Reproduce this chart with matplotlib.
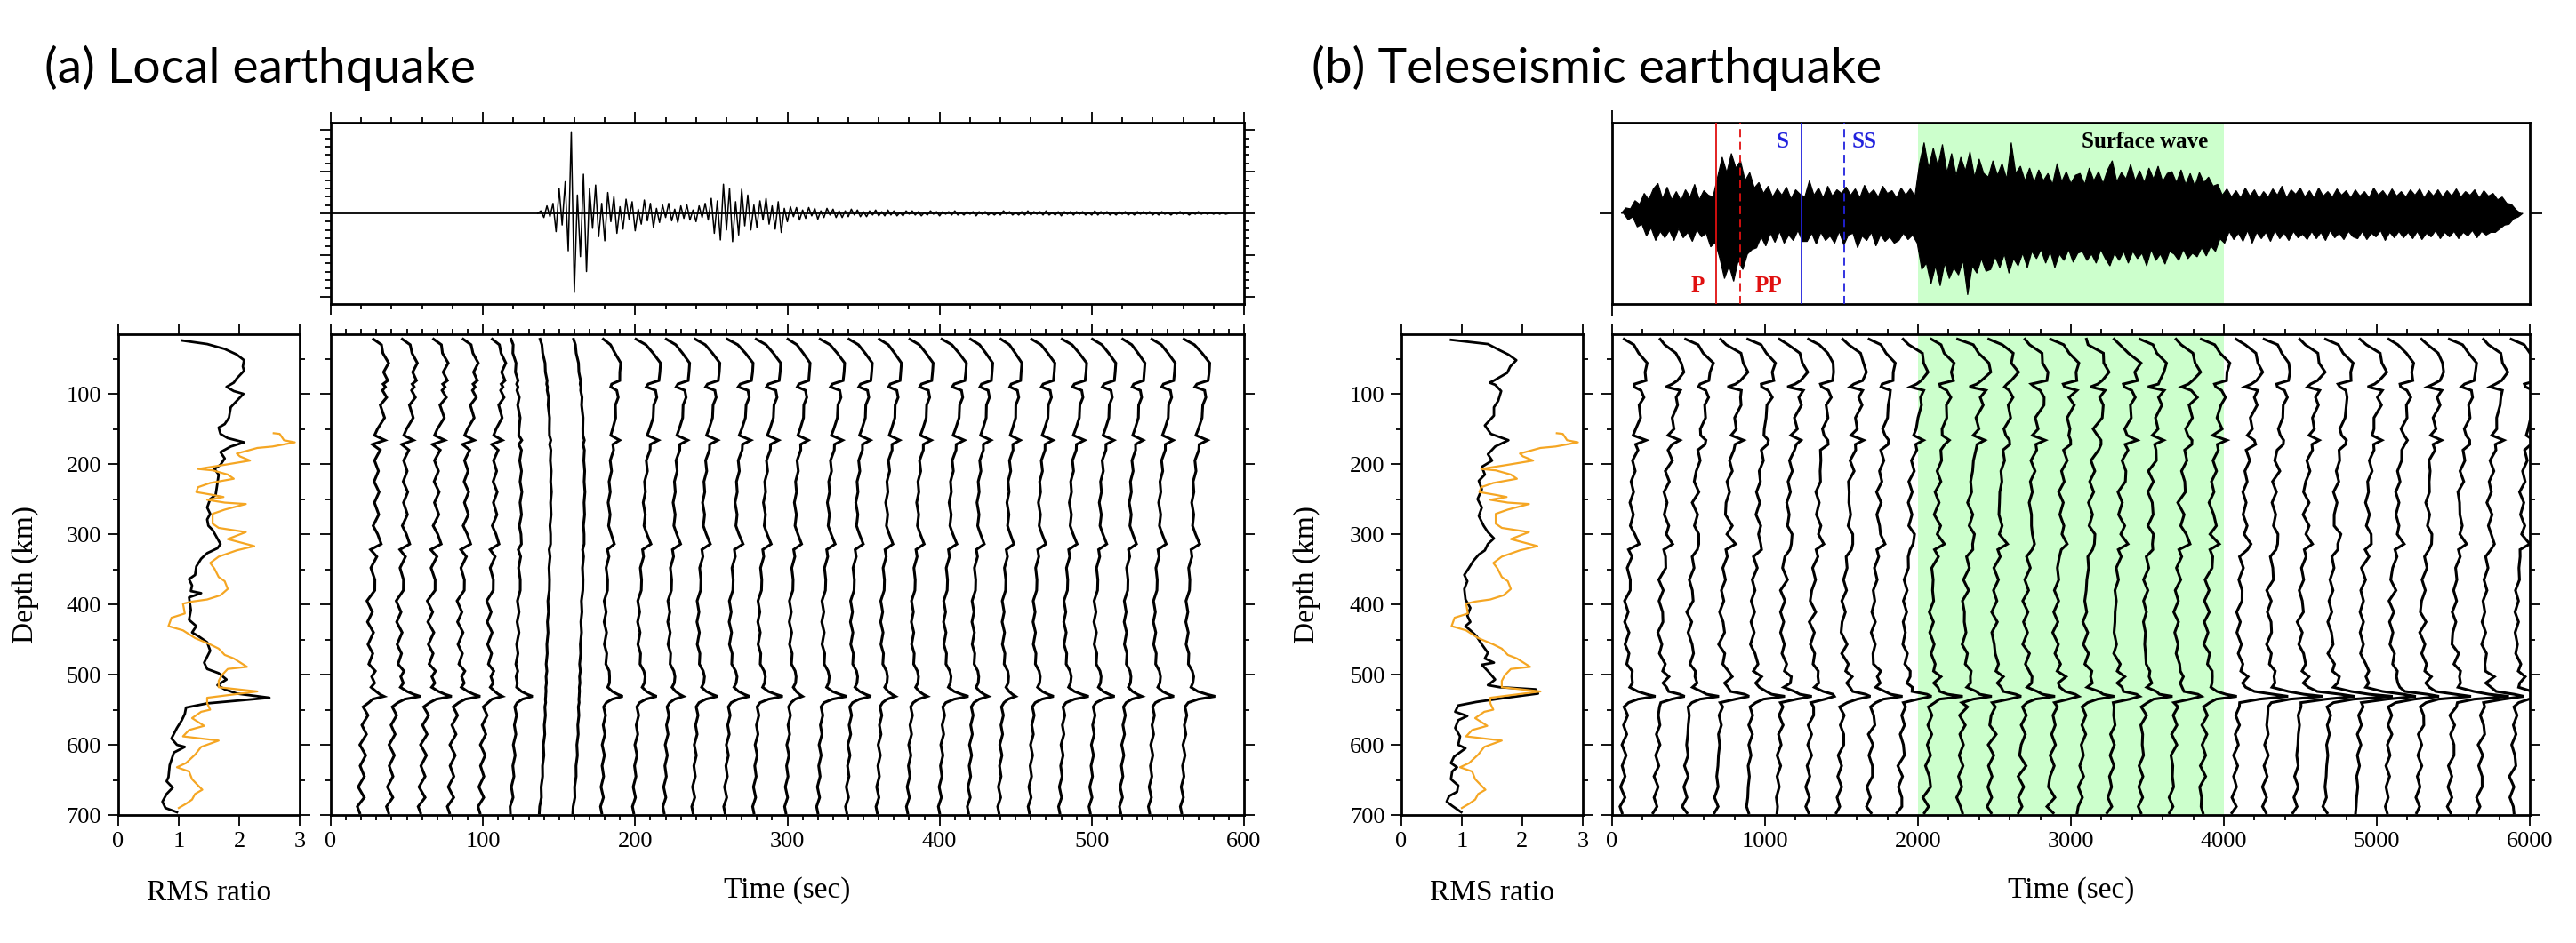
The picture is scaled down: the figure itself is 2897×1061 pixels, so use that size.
import numpy as np
import matplotlib
matplotlib.use("Agg")
import matplotlib.pyplot as plt
from matplotlib.ticker import MultipleLocator

W, H = 2897, 1061
SERIF = ['Liberation Serif', 'DejaVu Serif']
ORANGE = '#f5a623'
GREEN = '#ccffcc'
RED = '#e01010'
BLUE = '#2222dd'

# ---- RMS ratio profiles (depth km, ratio) ----
RMS_A_DEPTH = [24, 29, 36, 44, 52, 61, 67, 78, 84, 90,
               96, 100, 108, 119, 134, 143, 148, 157, 163, 169,
               175, 183, 192, 201, 207, 215, 227, 244, 250, 262,
               271, 279, 288, 294, 314, 320, 327, 335, 346, 358,
               364, 373, 381, 384, 390, 408, 422, 431, 440, 445,
               454, 466, 483, 492, 498, 507, 515, 521, 527, 533,
               541, 547, 556, 565, 576, 591, 600, 603, 611, 629,
               646, 652, 661, 670, 681, 690, 696]
RMS_A = [1.06, 1.47, 1.76, 1.96, 2.08, 2.06, 2.08, 1.96, 1.91, 1.79,
         1.91, 2.07, 1.98, 1.86, 1.83, 1.76, 1.66, 1.69, 1.81, 2.08,
         1.86, 1.69, 1.76, 1.69, 1.59, 1.66, 1.64, 1.61, 1.52, 1.47,
         1.52, 1.47, 1.49, 1.56, 1.69, 1.64, 1.47, 1.37, 1.29, 1.27,
         1.17, 1.22, 1.20, 1.37, 1.17, 1.20, 1.17, 1.29, 1.22, 1.32,
         1.47, 1.52, 1.42, 1.47, 1.66, 1.79, 1.64, 1.76, 1.96, 2.50,
         1.47, 1.12, 1.10, 1.05, 0.97, 0.88, 0.97, 1.10, 0.92, 0.85,
         0.83, 0.80, 0.90, 0.80, 0.73, 0.78, 0.97]

RMS_B_DEPTH = [23, 29, 38, 44, 52, 61, 70, 76, 81, 84,
               87, 96, 110, 119, 131, 145, 157, 166, 175, 186,
               195, 204, 215, 224, 236, 250, 262, 274, 288, 297,
               306, 314, 323, 329, 338, 349, 358, 367, 378, 393,
               405, 416, 425, 431, 437, 445, 457, 469, 477, 483,
               486, 495, 507, 515, 518, 521, 527, 533, 539, 544,
               553, 559, 565, 576, 588, 600, 605, 617, 626, 632,
               638, 649, 658, 667, 673, 681, 687, 696]
RMS_B = [0.82, 1.43, 1.63, 1.77, 1.90, 1.80, 1.75, 1.63, 1.53, 1.46,
         1.55, 1.65, 1.60, 1.53, 1.53, 1.38, 1.48, 1.77, 1.55, 1.43,
         1.50, 1.33, 1.38, 1.28, 1.33, 1.26, 1.33, 1.28, 1.36, 1.43,
         1.53, 1.43, 1.38, 1.28, 1.19, 1.11, 1.04, 1.09, 1.04, 1.06,
         1.14, 1.09, 1.14, 1.06, 1.14, 1.24, 1.33, 1.43, 1.38, 1.53,
         1.33, 1.43, 1.55, 1.43, 1.63, 2.22, 2.26, 1.73, 1.24, 0.94,
         0.89, 1.09, 0.94, 0.89, 0.97, 0.94, 1.06, 0.87, 0.82, 0.92,
         0.84, 0.82, 0.94, 0.92, 0.79, 0.75, 0.84, 0.99]

# reference (orange) profile, shared by both events
REF_DEPTH = [156, 157, 166, 169, 175, 177, 185, 189, 195, 201,
             207, 209, 215, 221, 227, 233, 240, 244, 247, 251,
             255, 257, 265, 271, 285, 291, 297, 307, 317, 323,
             332, 341, 349, 361, 367, 378, 387, 393, 396, 399,
             413, 419, 431, 437, 448, 457, 463, 472, 477, 489,
             492, 501, 509, 518, 524, 533, 541, 550, 553, 562,
             573, 579, 588, 594, 603, 614, 626, 632, 638, 649,
             658, 664, 670, 678, 684, 690]
REF_RMS = [2.57, 2.67, 2.74, 2.92, 2.55, 2.30, 1.96, 2.01, 2.18, 1.76,
           1.32, 1.56, 1.81, 1.91, 1.52, 1.32, 1.29, 1.56, 1.74, 1.47,
           1.76, 2.11, 1.76, 1.56, 1.56, 1.66, 2.11, 1.81, 2.25, 1.96,
           1.66, 1.52, 1.59, 1.66, 1.76, 1.81, 1.69, 1.47, 1.22, 1.07,
           1.10, 0.88, 0.83, 1.07, 1.27, 1.52, 1.66, 1.76, 1.91, 2.13,
           1.81, 1.71, 1.66, 1.66, 2.30, 1.47, 1.47, 1.52, 1.37, 1.22,
           1.42, 1.17, 1.07, 1.66, 1.37, 1.27, 1.12, 0.97, 1.17, 1.22,
           1.32, 1.39, 1.27, 1.22, 1.12, 1.00]

# ---- per-window trace templates (offset in s for a 600 s window) ----
TRACE_DEPTH = [22, 30, 42, 56, 69, 81, 86, 90, 95, 105,
               116, 134, 150, 159, 166, 172, 180, 195, 210, 225,
               240, 255, 272, 288, 300, 314, 322, 332, 348, 365,
               380, 395, 411, 425, 440, 457, 470, 485, 495, 503,
               512, 518, 524, 528, 531, 535, 540, 546, 558, 572,
               585, 600, 615, 630, 645, 660, 675, 688, 697]
SHAPE_MAIN = [1.5, 7.5, 13.5, 17.0, 17.8, 15.8, 10.0, 8.0, 15.0, 14.5,
              14.0, 12.2, 11.0, 9.8, 15.0, 12.0, 10.0, 9.0, 8.5, 7.8,
              7.0, 6.8, 7.0, 7.6, 8.2, 10.3, 7.0, 5.8, 5.0, 4.4,
              4.0, 3.6, 3.4, 3.3, 3.3, 3.4, 4.0, 5.0, 6.0, 8.0,
              6.5, 5.5, 5.0, 4.6, 4.3, 3.8, 3.0, 2.8, 2.5, 2.3,
              2.0, 1.7, 1.4, 1.1, 0.8, 0.5, 0.2, -0.1, 0.0]
SHAPE_EARLY = [9.0, 13.0, 17.0, 17.5, 17.0, 16.5, 16.5, 16.0, 16.5, 16.0,
               15.5, 14.8, 13.0, 12.0, 13.5, 11.0, 11.5, 11.5, 11.0, 11.0,
               11.0, 11.0, 11.0, 10.8, 10.5, 11.5, 10.0, 9.5, 8.9, 8.0,
               7.5, 7.0, 7.0, 6.9, 6.9, 7.0, 7.3, 8.0, 8.5, 9.0,
               8.5, 8.0, 7.5, 7.2, 7.0, 5.5, 4.5, 4.0, 3.5, 3.0,
               2.7, 2.3, 2.0, 1.6, 1.3, 1.0, 0.6, 0.2, 0.0]
SHAPE_SMOOTH = [0.5, 1.5, 2.5, 3.5, 4.2, 4.8, 5.0, 5.2, 5.4, 5.8,
                6.1, 6.5, 6.8, 7.0, 7.1, 7.2, 7.3, 7.5, 7.6, 7.7,
                7.7, 7.6, 7.5, 7.3, 7.2, 7.0, 6.9, 6.8, 6.6, 6.4,
                6.2, 6.0, 5.8, 5.6, 5.4, 5.2, 5.0, 4.8, 4.7, 4.6,
                4.5, 4.4, 4.3, 4.25, 4.2, 4.1, 4.0, 3.9, 3.7, 3.5,
                3.3, 3.0, 2.7, 2.3, 1.9, 1.5, 1.0, 0.5, 0.0]
JITTER = [0.0, 0.6, -0.8, 0.7, -0.6, 0.9, -0.5, 0.4, -0.7, 0.8,
          -0.9, 0.7, -0.6, -1.0, 1.4, -1.2, 0.9, -0.8, 0.6, -0.7,
          0.8, -0.6, 0.7, -0.9, 0.6, 1.2, -1.3, 0.8, -0.7, 0.9,
          1.1, -1.0, 0.6, -0.8, 1.0, -0.7, 0.6, -0.9, 0.8, -0.5,
          0.6, -0.4, 0.3, 0.0, 0.0, -0.3, 0.5, -0.8, 0.9, -0.7,
          0.8, -1.0, 0.9, -0.6, 0.8, -0.9, 1.1, -0.8, 0.0]
# sharp pulse near 530 km
PULSE_PEAK = {518: 0.5, 524: 3.5, 528: 8.0, 531: 12.0, 535: 5.0, 540: 0.5}

# local event: 28 windows
TRACE_A_T0 = [19, 38, 59, 78, 98, 118, 137, 159, 178, 199,
              219, 238, 259, 278, 299, 320, 339, 359, 379, 400,
              419, 439, 459, 479, 499, 519, 538, 559]
TRACE_A_SHAPE = ['early'] * 5 + ['smooth'] * 3 + ['main'] * 20
TRACE_A_GAIN = [1.0, 1.0, 0.95, 1.0, 0.9, 0.9, 1.0, 1.0, 0.7, 1.0,
                0.95, 1.0, 1.05, 1.0, 0.9, 1.0, 0.95, 0.9, 0.95, 1.0,
                0.9, 0.85, 0.95, 1.0, 0.95, 0.9, 0.95, 1.05]
TRACE_A_PULSE = [0.75, 1.15, 1.15, 1.1, 0.7, 0.9, 0.0, 0.0, 0.9, 0.9,
                 0.72, 0.98, 0.97, 1.22, 0.59, 1.22, 0.99, 0.68, 0.74, 1.22,
                 0.76, 0.61, 0.99, 1.22, 0.99, 0.84, 0.99, 1.46]
TRACE_A_JITTER = [2.2, 2.0, 2.2, 2.0, 1.8, 0.8, 0.35, 0.35] + [0.9] * 20

# teleseismic event: 30 windows
TRACE_B_T0 = [65, 282, 475, 680, 885, 1078, 1275, 1480, 1677, 1878,
              2055, 2268, 2465, 2670, 2867, 3060, 3253, 3450, 3655, 3852,
              4065, 4263, 4467, 4661, 4866, 5063, 5268, 5473, 5666, 5879]
TRACE_B_GAIN = [0.9, 1.0, 1.0, 1.1, 1.0, 1.05, 1.0, 1.0, 0.95, 1.0,
                1.0, 1.05, 1.0, 0.95, 1.0, 1.0, 1.05, 0.95, 1.0, 1.0,
                1.0, 0.95, 1.0, 1.0, 1.05, 1.0, 0.95, 1.0, 1.0, 1.0]
TRACE_B_PULSE = [1.5, 1.3, 1.4, 1.5, 1.6, 1.4, 1.3, 1.5, 1.4, 1.5,
                 1.4, 1.3, 1.5, 1.4, 1.3, 1.5, 1.4, 1.3, 1.4, 1.5,
                 2.6, 2.8, 3.0, 3.2, 3.0, 2.6, 2.4, 2.8, 2.2, 1.8]
TRACE_B_JITTER = [1.6] * 10 + [1.9] * 10 + [1.6] * 10

# ---- seismograms ----
TOP_A_START, TOP_A_STEP = 136.0, 2.0
TOP_A_WAVE = [
    0.00, 0.03, -0.05, 0.09, -0.04, 0.12, -0.22, 0.30, -0.14, 0.38,
    -0.45, 0.98, -0.95, 0.22, -0.52, 0.47, -0.70, 0.30, -0.18, 0.34,
    -0.28, 0.12, -0.33, 0.25, -0.10, 0.20, -0.24, 0.08, -0.19, 0.17,
    -0.07, 0.14, -0.21, 0.05, -0.13, 0.16, -0.09, 0.12, -0.17, 0.06,
    -0.11, 0.10, -0.05, 0.12, -0.09, 0.05, -0.11, 0.09, -0.06, 0.10,
    -0.08, 0.04, -0.10, 0.09, -0.05, 0.12, -0.08, 0.18, -0.24, 0.15,
    -0.32, 0.35, -0.20, 0.30, -0.34, 0.14, -0.26, 0.29, -0.15, 0.22,
    -0.20, 0.10, -0.17, 0.15, -0.08, 0.18, -0.13, 0.09, -0.19, 0.14,
    -0.23, 0.06, -0.10, 0.08, -0.04, 0.07, -0.08, 0.04, -0.06, 0.07,
    -0.03, 0.06, -0.07, 0.03, -0.05, 0.06, -0.02, 0.05, -0.05, 0.03,
    -0.05, 0.03, -0.04, 0.05, -0.02, 0.04, -0.04, 0.02, -0.04, 0.03,
    -0.02, 0.04, -0.03, 0.02, -0.03, 0.04, -0.02, 0.03, -0.03, 0.01,
    -0.03, 0.03, -0.01, 0.03, -0.02, 0.02, -0.03, 0.01, -0.02, 0.03,
    -0.01, 0.02, -0.03, 0.02, -0.01, 0.02, -0.02, 0.03, -0.02, 0.01,
    -0.02, 0.02, -0.01, 0.02, -0.03, 0.02, -0.01, 0.02, -0.02, 0.01,
    -0.02, 0.01, -0.02, 0.03, -0.01, 0.02, -0.02, 0.01, -0.02, 0.02,
    -0.02, 0.03, -0.02, 0.02, -0.01, 0.02, -0.02, 0.03, -0.02, 0.01,
    -0.02, 0.02, -0.03, 0.02, -0.01, 0.02, -0.02, 0.02, -0.01, 0.02,
    -0.02, 0.01, -0.02, 0.03, -0.02, 0.02, -0.01, 0.02, -0.02, 0.01,
    -0.02, 0.02, -0.01, 0.02, -0.02, 0.01, -0.02, 0.02, -0.01, 0.02,
    -0.01, 0.02, -0.02, 0.01, -0.02, 0.02, -0.01, 0.01, -0.02, 0.01,
    -0.01, 0.02, -0.01, 0.01, -0.02, 0.01, -0.01, 0.02, -0.01, 0.01,
    -0.01, 0.01, -0.01, 0.01, -0.01, 0.01, -0.01, 0.00]

# teleseismic record: upper and lower peaks per 30 s bin
TOP_B_START, TOP_B_STEP = 60.0, 30.0
TOP_B_UPPER = [
    0.00, 0.06, 0.05, 0.14, 0.10, 0.22, 0.15, 0.27, 0.33, 0.16,
    0.29, 0.15, 0.24, 0.14, 0.26, 0.18, 0.32, 0.15, 0.25, 0.20,
    0.18, 0.40, 0.62, 0.45, 0.66, 0.50, 0.58, 0.36, 0.45, 0.28,
    0.34, 0.22, 0.30, 0.18, 0.27, 0.20, 0.29, 0.16, 0.26, 0.21,
    0.18, 0.36, 0.20, 0.28, 0.17, 0.30, 0.19, 0.26, 0.22, 0.29,
    0.20, 0.27, 0.17, 0.31, 0.21, 0.26, 0.18, 0.30, 0.22, 0.25,
    0.17, 0.28, 0.20, 0.27, 0.19, 0.55, 0.78, 0.50, 0.72, 0.52,
    0.76, 0.45, 0.66, 0.42, 0.62, 0.47, 0.68, 0.40, 0.60, 0.44,
    0.40, 0.58, 0.42, 0.55, 0.38, 0.78, 0.44, 0.52, 0.36, 0.50,
    0.34, 0.48, 0.36, 0.44, 0.32, 0.55, 0.35, 0.46, 0.33, 0.42,
    0.44, 0.32, 0.50, 0.36, 0.46, 0.33, 0.48, 0.58, 0.35, 0.45,
    0.38, 0.54, 0.36, 0.47, 0.34, 0.50, 0.38, 0.52, 0.35, 0.44,
    0.46, 0.34, 0.48, 0.32, 0.44, 0.30, 0.45, 0.34, 0.40, 0.30,
    0.32, 0.20, 0.27, 0.18, 0.25, 0.17, 0.28, 0.19, 0.26, 0.16,
    0.24, 0.18, 0.27, 0.20, 0.30, 0.17, 0.26, 0.21, 0.28, 0.18,
    0.25, 0.17, 0.28, 0.19, 0.24, 0.18, 0.27, 0.20, 0.25, 0.17,
    0.26, 0.19, 0.24, 0.17, 0.28, 0.20, 0.25, 0.18, 0.27, 0.19,
    0.24, 0.18, 0.26, 0.20, 0.27, 0.17, 0.25, 0.19, 0.26, 0.18,
    0.25, 0.19, 0.27, 0.18, 0.24, 0.20, 0.26, 0.17, 0.25, 0.19,
    0.22, 0.15, 0.18, 0.11, 0.10, 0.04, 0.00]
TOP_B_LOWER = [
    0.00, -0.07, -0.04, -0.15, -0.12, -0.25, -0.16, -0.30, -0.20, -0.27,
    -0.19, -0.30, -0.17, -0.27, -0.21, -0.31, -0.18, -0.26, -0.22, -0.37,
    -0.32, -0.50, -0.72, -0.58, -0.75, -0.52, -0.62, -0.45, -0.40, -0.38,
    -0.26, -0.36, -0.22, -0.32, -0.20, -0.33, -0.24, -0.30, -0.19, -0.31,
    -0.31, -0.22, -0.34, -0.21, -0.30, -0.25, -0.33, -0.20, -0.35, -0.24,
    -0.22, -0.38, -0.25, -0.30, -0.21, -0.36, -0.24, -0.31, -0.26, -0.33,
    -0.30, -0.22, -0.29, -0.24, -0.33, -0.62, -0.55, -0.78, -0.58, -0.80,
    -0.55, -0.72, -0.60, -0.68, -0.52, -0.90, -0.58, -0.66, -0.50, -0.64,
    -0.62, -0.48, -0.60, -0.45, -0.66, -0.50, -0.58, -0.44, -0.60, -0.42,
    -0.50, -0.40, -0.55, -0.42, -0.60, -0.45, -0.52, -0.40, -0.54, -0.44,
    -0.42, -0.52, -0.45, -0.55, -0.40, -0.50, -0.58, -0.44, -0.52, -0.42,
    -0.55, -0.42, -0.50, -0.44, -0.58, -0.40, -0.52, -0.45, -0.56, -0.42,
    -0.45, -0.52, -0.40, -0.50, -0.44, -0.48, -0.38, -0.47, -0.36, -0.42,
    -0.28, -0.33, -0.20, -0.29, -0.22, -0.31, -0.19, -0.33, -0.21, -0.28,
    -0.21, -0.31, -0.19, -0.28, -0.22, -0.30, -0.20, -0.27, -0.23, -0.29,
    -0.20, -0.28, -0.21, -0.30, -0.19, -0.27, -0.22, -0.29, -0.20, -0.26,
    -0.28, -0.20, -0.29, -0.22, -0.26, -0.19, -0.30, -0.21, -0.27, -0.20,
    -0.27, -0.21, -0.28, -0.20, -0.29, -0.22, -0.26, -0.19, -0.28, -0.21,
    -0.26, -0.20, -0.28, -0.21, -0.25, -0.19, -0.27, -0.20, -0.24, -0.21,
    -0.21, -0.17, -0.13, -0.12, -0.06, -0.04, 0.00]

# phase picks for the teleseismic record (s), label offset (s), label height
PHASES = [('P', 681, RED, '-', -120, -0.80), ('PP', 839, RED, '--', 185, -0.80),
          ('S', 1237, BLUE, '-', -125, 0.79), ('SS', 1515, BLUE, '--', 136, 0.79)]
SURFACE_WINDOW = (2000, 4000)


def px_axes(fig, x0, y0, x1, y1):
    return fig.add_axes([x0 / W, 1 - y1 / H, (x1 - x0) / W, (y1 - y0) / H])


def frame(ax):
    for s in ax.spines.values():
        s.set_linewidth(2.0)
    ax.tick_params(which='both', direction='out', top=True, right=True,
                   labeltop=False, labelright=False, width=1.3,
                   labelsize=19, pad=5)
    ax.tick_params(which='major', length=8.5)
    ax.tick_params(which='minor', length=4.5)


def depth_axis(ax, labels):
    ax.set_ylim(700, 15)
    ax.yaxis.set_major_locator(MultipleLocator(100))
    ax.yaxis.set_minor_locator(MultipleLocator(50))
    if not labels:
        ax.tick_params(labelleft=False)


def draw_rms(ax, depth, rms):
    frame(ax)
    ax.plot(rms, depth, color='k', lw=2.0)
    ax.plot(REF_RMS, REF_DEPTH, color=ORANGE, lw=1.6)
    ax.set_xlim(0, 3)
    ax.set_xticks([0, 1, 2, 3])
    depth_axis(ax, True)


def draw_traces(ax, t0s, shapes, gains, pulses, jitters, scale, roll):
    shape_map = {'main': np.array(SHAPE_MAIN), 'early': np.array(SHAPE_EARLY),
                 'smooth': np.array(SHAPE_SMOOTH)}
    pulse = np.array([PULSE_PEAK.get(d, 0.0) for d in TRACE_DEPTH])
    jit = np.array(JITTER)
    depth = np.array(TRACE_DEPTH)
    for i, t0 in enumerate(t0s):
        j = np.roll(jit, roll * i)
        off = gains[i] * shape_map[shapes[i]] + pulses[i] * pulse + jitters[i] * j
        ax.plot(t0 + scale * off, depth, color='k', lw=2.2,
                solid_joinstyle='miter', zorder=3)


def main():
    plt.rcParams['font.family'] = SERIF
    fig = plt.figure(figsize=(W / 100, H / 100), dpi=100)

    # ---------- (a) local earthquake ----------
    ax = px_axes(fig, 372, 138, 1399, 342)
    frame(ax)
    ax.axhline(0, color='k', lw=1.3)
    t = TOP_A_START + TOP_A_STEP * np.arange(len(TOP_A_WAVE))
    ax.plot(t, TOP_A_WAVE, color='k', lw=1.1)
    ax.set_xlim(0, 600)
    ax.set_ylim(-1.09, 1.09)
    ax.xaxis.set_major_locator(MultipleLocator(100))
    ax.xaxis.set_minor_locator(MultipleLocator(20))
    ax.yaxis.set_major_locator(MultipleLocator(0.5))
    ax.yaxis.set_minor_locator(MultipleLocator(0.1))
    ax.tick_params(labelbottom=False, labelleft=False)

    ax = px_axes(fig, 133, 376, 337, 917)
    draw_rms(ax, RMS_A_DEPTH, RMS_A)

    ax = px_axes(fig, 372, 376, 1399, 917)
    frame(ax)
    draw_traces(ax, TRACE_A_T0, TRACE_A_SHAPE, TRACE_A_GAIN, TRACE_A_PULSE,
                TRACE_A_JITTER, 1.0, 0)
    ax.set_xlim(0, 600)
    ax.xaxis.set_major_locator(MultipleLocator(100))
    ax.xaxis.set_minor_locator(MultipleLocator(10))
    depth_axis(ax, False)

    # ---------- (b) teleseismic earthquake ----------
    ax = px_axes(fig, 1813, 138, 2845, 342)
    frame(ax)
    ax.axvspan(*SURFACE_WINDOW, color=GREEN, lw=0, zorder=0)
    t = TOP_B_START + TOP_B_STEP * np.arange(len(TOP_B_UPPER))
    # lower peaks sit half a bin after the upper ones
    xs = np.r_[t, (t + TOP_B_STEP / 2)[::-1]]
    ys = np.r_[TOP_B_UPPER, TOP_B_LOWER[::-1]]
    ax.fill(xs, ys, color='k', lw=0.8, zorder=2)
    for name, tp, col, ls, dx, y in PHASES:
        if ls == '--':
            ax.axvline(tp, color=col, lw=1.3, ls='--', dashes=(5, 3), zorder=4)
        else:
            ax.axvline(tp, color=col, lw=1.3, zorder=4)
        ax.text(tp + dx, y, name, color=col, fontsize=18, fontweight='bold',
                ha='center', va='center')
    ax.text(3483, 0.79, 'Surface wave', color='k', fontsize=18, fontweight='bold',
            ha='center', va='center')
    ax.set_xlim(0, 6000)
    ax.set_ylim(-1, 1)
    ax.set_xticks([0])
    ax.set_yticks([0])
    ax.tick_params(labelbottom=False, labelleft=False, length=10)

    ax = px_axes(fig, 1576, 376, 1780, 917)
    draw_rms(ax, RMS_B_DEPTH, RMS_B)

    ax = px_axes(fig, 1813, 376, 2845, 917)
    frame(ax)
    ax.axvspan(*SURFACE_WINDOW, color=GREEN, lw=0, zorder=0)
    draw_traces(ax, TRACE_B_T0, ['main'] * len(TRACE_B_T0), TRACE_B_GAIN,
                TRACE_B_PULSE, TRACE_B_JITTER, 10.0, 3)
    ax.set_xlim(0, 6000)
    ax.xaxis.set_major_locator(MultipleLocator(1000))
    ax.xaxis.set_minor_locator(MultipleLocator(200))
    depth_axis(ax, False)

    # ---------- labels ----------
    for x in (29, 1470):
        fig.text(x / W, 1 - 646 / H, 'Depth (km)', rotation=90, fontsize=24,
                 ha='center', va='center')
    for x in (235, 1678):
        fig.text(x / W, 1 - 1005 / H, 'RMS ratio', fontsize=24, ha='center', va='center')
    for x in (885, 2329):
        fig.text(x / W, 1 - 1002 / H, 'Time (sec)', fontsize=24, ha='center', va='center')

    fig.text(50 / W, 1 - 93 / H, '(a) Local earthquake', fontsize=39.8,
             family=['Lato', 'DejaVu Sans'], va='baseline')
    fig.text(1475 / W, 1 - 93 / H, '(b) Teleseismic earthquake', fontsize=39.8,
             family=['Lato', 'DejaVu Sans'], va='baseline')

    fig.savefig('out.png', dpi=100)


if __name__ == '__main__':
    main()
